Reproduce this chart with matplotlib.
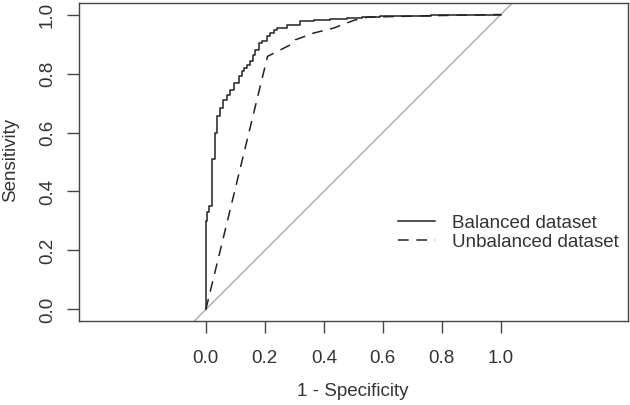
import matplotlib.pyplot as plt

plt.rcParams['font.family'] = ['Liberation Sans', 'DejaVu Sans']

# ROC curve values (1 - specificity, sensitivity)
bal_fpr = [0.0, 0.0, 0.003, 0.012, 0.02, 0.022, 0.032, 0.037, 0.049, 0.058,
           0.071, 0.083, 0.094, 0.111, 0.122, 0.128, 0.139, 0.150, 0.160,
           0.167, 0.179, 0.190, 0.207, 0.218, 0.230, 0.241, 0.275, 0.320,
           0.365, 0.42, 0.479, 0.53, 0.592, 0.68, 0.762, 0.85, 1.0]
bal_tpr = [0.0, 0.282, 0.30, 0.33, 0.35, 0.50, 0.51, 0.60, 0.655, 0.683,
           0.711, 0.728, 0.745, 0.768, 0.790, 0.807, 0.818, 0.830, 0.841,
           0.864, 0.880, 0.903, 0.909, 0.926, 0.937, 0.948, 0.954, 0.965,
           0.978, 0.981, 0.984, 0.988, 0.991, 0.994, 0.996, 0.998, 1.0]

unbal_fpr = [0.0, 0.209, 0.298, 0.303, 0.365, 0.433, 0.501, 0.547, 0.762, 1.0]
unbal_tpr = [0.0, 0.858, 0.903, 0.914, 0.937, 0.954, 0.980, 0.991, 0.996, 1.0]

x_ticks = [0.0, 0.2, 0.4, 0.6, 0.8, 1.0]
y_ticks = [0.0, 0.2, 0.4, 0.6, 0.8, 1.0]

fs = 13.5
txt_col = '#333333'

fig = plt.figure(figsize=(6.3, 4.05), dpi=100)
ax = fig.add_axes([0.1254, 0.2067, 0.8709, 0.7866])

line_col = '#222222'
ax.axline((0, 0), (1, 1), color='#aaaaaa', linewidth=1.0)
ax.step(bal_fpr, bal_tpr, where='pre', color=line_col, linewidth=1.1,
        label='Balanced dataset')
ax.plot(unbal_fpr, unbal_tpr, color=line_col, linewidth=1.1,
        linestyle=(0, (7, 5)), label='Unbalanced dataset')

ax.set_xlim(-0.43, 1.43)
ax.set_ylim(-0.04, 1.04)
ax.set_xticks(x_ticks)
ax.set_yticks(y_ticks)
ax.set_xticklabels(['%.1f' % v for v in x_ticks])
ax.set_yticklabels(['%.1f' % v for v in y_ticks], rotation=90, va='center')

for s in ax.spines.values():
    s.set_color('#444444')
    s.set_linewidth(1.0)
ax.tick_params(axis='both', direction='out', length=8.6, width=1.0,
               color='#444444', labelsize=fs, labelcolor=txt_col)
ax.tick_params(axis='x', pad=12)
ax.tick_params(axis='y', pad=8)

fig.text(353 / 630, 1 - 392 / 405, '1 - Specificity', fontsize=fs,
         color=txt_col, ha='center', va='center')
fig.text(11 / 630, 1 - 160 / 405, 'Sensitivity', fontsize=fs, color=txt_col,
         ha='center', va='center', rotation=90)

ax.legend(loc='center left', bbox_to_anchor=(398 / 630, (405 - 232.7) / 405),
          bbox_transform=fig.transFigure, frameon=False, fontsize=fs,
          handlelength=1.97, handletextpad=0.9, labelspacing=0.1,
          borderpad=0, borderaxespad=0, labelcolor=txt_col)

plt.savefig('out.png', dpi=100)
plt.close()
